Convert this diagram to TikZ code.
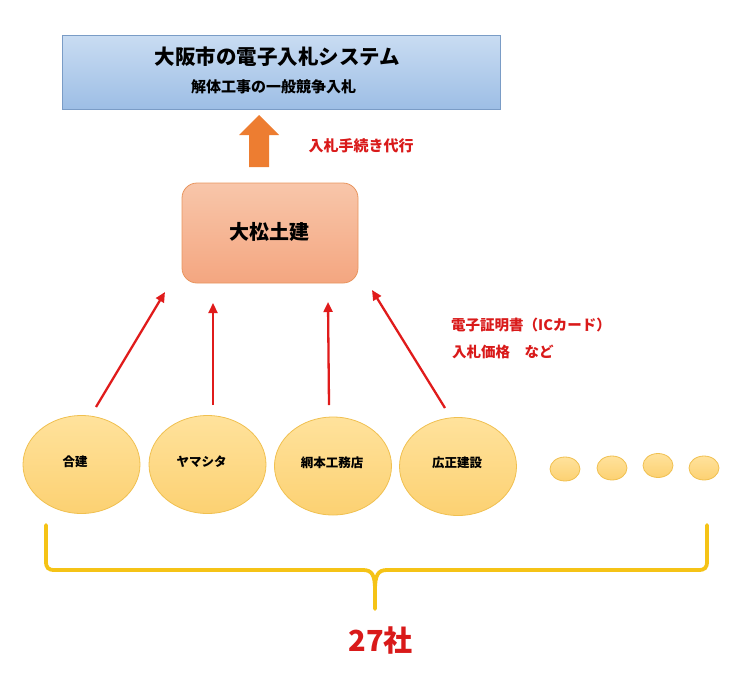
\documentclass[tikz,border=0pt]{standalone}
\usepackage{fontspec}
\setmainfont{Noto Sans CJK JP}
\usetikzlibrary{shapes.geometric,arrows.meta}
\definecolor{boxtop}{HTML}{C9DCF2}
\definecolor{boxbot}{HTML}{9DBEE5}
\definecolor{boxline}{HTML}{7A9CC6}
\definecolor{dmtop}{HTML}{F8C6AA}
\definecolor{dmbot}{HTML}{F4A680}
\definecolor{dmline}{HTML}{E8955E}
\definecolor{ctop}{HTML}{FFE29C}
\definecolor{cbot}{HTML}{FCD172}
\definecolor{cline}{HTML}{F0C050}
\definecolor{orng}{HTML}{ED7D31}
\definecolor{redl}{HTML}{E01B1B}
\definecolor{redt}{HTML}{D91A1A}
\definecolor{brace}{HTML}{F5C316}
\begin{document}
\begin{tikzpicture}[x=1pt,y=-1pt,
  company/.style={ellipse,draw=cline,line width=0.8pt,top color=ctop,bottom color=cbot,
    minimum width=117pt,minimum height=98pt,inner sep=0pt},
  dot/.style={ellipse,draw=cline,line width=0.8pt,top color=ctop,bottom color=cbot,
    minimum width=30pt,minimum height=24pt,inner sep=0pt},
  clabel/.style={font=\bfseries\fontsize{12.5}{14}\selectfont,text=black},
  redtext/.style={font=\bfseries\fontsize{14.5}{17}\selectfont,text=redt,inner sep=0pt},
  redarr/.style={draw=redl,line width=2.3pt,-{Triangle[length=10pt,width=9pt]}},
  bracestyle/.style={draw=brace,line width=3.8pt,line cap=round,line join=round}]
\useasboundingbox (0,0) rectangle (741,683);
% top system box
\node[draw=boxline,line width=0.8pt,top color=boxtop,bottom color=boxbot,
  minimum width=438pt,minimum height=74pt,inner sep=0pt] (sys) at (281.5,72) {};
\node[font=\bfseries\fontsize{20.5}{24}\selectfont,inner sep=0pt] (title) at (277.5,57) {大阪市の電子入札システム};
\node[font=\bfseries\fontsize{15}{18}\selectfont,inner sep=0pt] (sub) at (273.5,87) {解体工事の一般競争入札};
% orange block arrow
\fill[orng] (249,167) -- (249,135) -- (239,135) -- (259,115) -- (279,135) -- (269,135) -- (269,167) -- cycle;
\node[redtext,font=\bfseries\fontsize{15}{18}\selectfont] (daiko) at (361,146) {入札手続き代行};
% Daimatsu box
\node[draw=dmline,line width=0.8pt,top color=dmtop,bottom color=dmbot,rounded corners=15pt,
  minimum width=176pt,minimum height=100pt,inner sep=0pt] (dm) at (270,233) {};
\node[font=\bfseries\fontsize{20}{24}\selectfont,inner sep=0pt] (dmt) at (269,232) {大松土建};
% companies
\node[company] (c1) at (81.5,464.5) {};
\node[company] (c2) at (207.5,464.5) {};
\node[company] (c3) at (333,466) {};
\node[company] (c4) at (458,466.5) {};
\node[clabel] (l1) at (75,462) {合建};
\node[clabel] (l2) at (201.5,462) {ヤマシタ};
\node[clabel] (l3) at (332,463) {網本工務店};
\node[clabel] (l4) at (457,463) {広正建設};
\node[dot] (d1) at (565,469) {};
\node[dot] (d2) at (612,468) {};
\node[dot] (d3) at (658,465.5) {};
\node[dot] (d4) at (704,468) {};
% red arrows
\coordinate (a1s) at (96,407);  \coordinate (a1e) at (165,292);
\coordinate (a2s) at (213,405); \coordinate (a2e) at (213,303);
\coordinate (a3s) at (329,405); \coordinate (a3e) at (328,302);
\coordinate (a4s) at (445,408); \coordinate (a4e) at (372,290);
\draw[redarr] (a1s) -- (a1e);
\draw[redarr] (a2s) -- (a2e);
\draw[redarr] (a3s) -- (a3e);
\draw[redarr] (a4s) -- (a4e);
\node[redtext,anchor=west] (cert) at (451,325) {電子証明書（ICカード）};
\node[redtext,anchor=west] (price) at (452,352) {入札価格　など};
% brace
\coordinate (bl) at (46,525);
\coordinate (br) at (707,525);
\coordinate (bt) at (375,609);
\draw[bracestyle]
  (bl) -- (46,561) .. controls (46,568) and (48,570) .. (55,570) -- (363,570)
  .. controls (372,570) and (375,575) .. (375,590) -- (bt);
\draw[bracestyle]
  (br) -- (707,561) .. controls (707,568) and (705,570) .. (698,570) -- (387,570)
  .. controls (378,570) and (375,575) .. (375,590);
\node[font=\bfseries\fontsize{29}{32}\selectfont,text=redt,inner sep=0pt] (count) at (380.5,640) {27社};
\end{tikzpicture}
\end{document}
